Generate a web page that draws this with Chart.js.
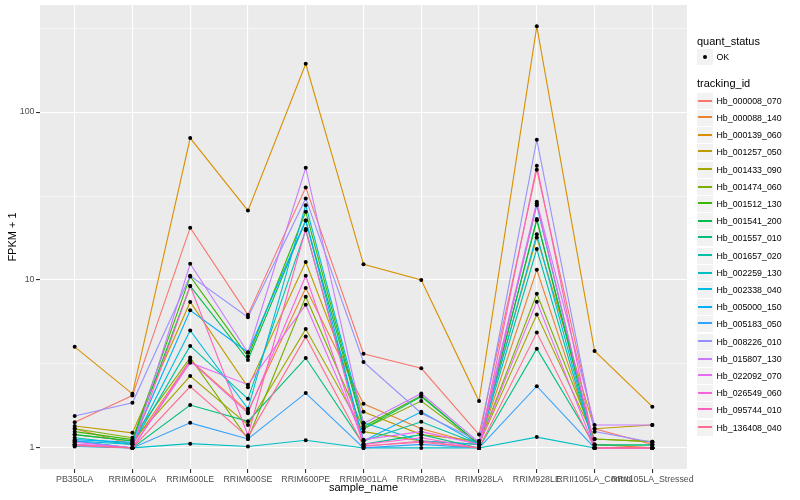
<!DOCTYPE html>
<html>
<head>
<meta charset="utf-8">
<script src="https://cdn.jsdelivr.net/npm/chart.js@4.4.0/dist/chart.umd.min.js"></script>
<style>
  body { margin: 0; background: #fff; font-family: "Liberation Sans", Arial, sans-serif; }
  #wrap { position: relative; width: 800px; height: 500px; }
  #legend { position: absolute; left: 697px; top: 0; width: 103px; height: 500px; }
  .ttl { position: absolute; left: 0; font-size: 11px; line-height: 13px; color: #000; white-space: nowrap; }
  .row { position: absolute; left: 0; height: 16px; display: flex; align-items: center; }
  .key { width: 16px; height: 16px; background: #F2F2F2; position: relative; flex: none; }
  .key i { position: absolute; left: 1px; right: 1px; height: 2px; }
  .key b { position: absolute; left: 6px; top: 6px; width: 4px; height: 4px; border-radius: 50%; background: #000; }
  .lab { font-size: 8.8px; color: #000; margin-left: 3.5px; white-space: nowrap; }
</style>
</head>
<body>
<div id="wrap">
  <canvas id="fpkmChart" width="800" height="500"></canvas>
  <div id="legend"></div>
</div>
<script>
const FONT = '"Liberation Sans", Arial, sans-serif';

const sampleNames = ['PB350LA', 'RRIM600LA', 'RRIM600LE', 'RRIM600SE', 'RRIM600PE', 'RRIM901LA',
    'RRIM928BA', 'RRIM928LA', 'RRIM928LE', 'RRII105LA_Control', 'RRII105LA_Stressed'];

const trackingIds = ['Hb_000008_070', 'Hb_000088_140', 'Hb_000139_060', 'Hb_001257_050', 'Hb_001433_090',
    'Hb_001474_060', 'Hb_001512_130', 'Hb_001541_200', 'Hb_001557_010', 'Hb_001657_020',
    'Hb_002259_130', 'Hb_002338_040', 'Hb_005000_150', 'Hb_005183_050', 'Hb_008226_010',
    'Hb_015807_130', 'Hb_022092_070', 'Hb_026549_060', 'Hb_095744_010', 'Hb_136408_040'];

const lineColours = ['#F8766D', '#EA8331', '#D89000', '#C09B00', '#A3A500', '#7CAE00', '#39B600',
    '#00BB4E', '#00BF7D', '#00C1A3', '#00BFC4', '#00BAE0', '#00B0F6', '#35A2FF', '#9590FF',
    '#C77CFF', '#E76BF3', '#FA62DB', '#FF62BC', '#FF6C91'];

// FPKM + 1 per sample, same order as sampleNames
const hb000008_070 = [1.42, 2.05, 20.5, 6.2, 35.6, 3.64, 2.98, 1.2, 45.4, 1.3, 1.05];
const hb000088_140 = [1.3, 1.05, 3.34, 1.65, 8.96, 1.83, 1.3, 1.05, 11.5, 1.05, 1.0];
const hb000139_060 = [4.0, 2.1, 70, 25.9, 194, 12.4, 10.0, 1.9, 324, 3.78, 1.76];
const hb001257_050 = [1.35, 1.23, 7.4, 2.3, 12.8, 1.64, 1.2, 1.1, 17.9, 1.3, 1.37];
const hb001433_090 = [1.2, 1.1, 2.68, 1.37, 5.1, 1.25, 1.1, 1.05, 6.22, 1.13, 1.09];
const hb001474_060 = [1.3, 1.15, 3.45, 1.13, 7.95, 1.3, 1.9, 1.05, 8.28, 1.13, 1.09];
const hb001512_130 = [1.25, 1.12, 10.5, 3.5, 25.5, 1.34, 2.05, 1.05, 22.7, 1.0, 1.0];
const hb001541_200 = [1.2, 1.1, 9.2, 3.34, 22.6, 1.3, 2.02, 1.05, 23.1, 1.04, 1.04];
const hb001557_010 = [1.1, 1.0, 1.8, 1.44, 3.43, 1.05, 1.2, 1.0, 3.9, 1.04, 1.04];
const hb001657_020 = [1.15, 1.05, 4.05, 1.96, 19.8, 1.1, 1.43, 1.05, 15.3, 1.0, 1.0];
const hb002259_130 = [1.02, 1.0, 1.06, 1.02, 1.11, 1.0, 1.0, 1.0, 1.16, 1.0, 1.0];
const hb002338_040 = [1.1, 1.05, 5.0, 1.71, 27.9, 1.41, 1.1, 1.05, 18.7, 1.0, 1.0];
const hb005000_150 = [1.12, 1.08, 6.6, 3.71, 22.6, 1.1, 1.64, 1.05, 27.9, 1.0, 1.0];
const hb005183_050 = [1.1, 1.0, 1.41, 1.13, 2.12, 1.0, 1.05, 1.0, 2.33, 1.0, 1.0];
const hb008226_010 = [1.55, 1.86, 10.6, 6.0, 30.6, 3.25, 1.61, 1.1, 68.4, 1.25, 1.08];
const hb015807_130 = [1.05, 1.0, 12.5, 3.7, 46.6, 1.4, 2.11, 1.08, 29.2, 1.37, 1.37];
const hb022092_070 = [1.08, 1.0, 3.22, 2.38, 7.13, 1.12, 1.25, 1.05, 7.43, 1.0, 1.0];
const hb026549_060 = [1.05, 1.0, 3.3, 1.61, 10.6, 1.05, 1.15, 1.0, 28.5, 1.0, 1.0];
const hb095744_010 = [1.03, 1.0, 9.2, 1.19, 20.1, 1.02, 1.1, 1.0, 47.9, 1.0, 1.0];
const hb136408_040 = [1.04, 1.0, 2.32, 1.16, 4.6, 1.03, 1.08, 1.0, 4.86, 1.0, 1.0];

const seriesValues = [hb000008_070, hb000088_140, hb000139_060, hb001257_050, hb001433_090,
    hb001474_060, hb001512_130, hb001541_200, hb001557_010, hb001657_020, hb002259_130,
    hb002338_040, hb005000_150, hb005183_050, hb008226_010, hb015807_130, hb022092_070,
    hb026549_060, hb095744_010, hb136408_040];

const yTickValues = [1, 10, 100];
const yTickLabels = ['1', '10', '100'];
const yMinorValues = [3.1623, 31.623, 316.23];

// points go on top of every line, like geom_point after geom_line
const allPoints = [];
seriesValues.forEach(vals => vals.forEach((v, j) => allPoints.push({ x: j, y: v })));

const datasets = [{
    label: 'OK',
    type: 'scatter',
    data: allPoints,
    showLine: false,
    pointRadius: 2,
    pointBackgroundColor: '#000',
    pointBorderColor: '#000',
    pointBorderWidth: 0
}];
// chart.js paints index 0 last, so push lines in reverse
for (let i = seriesValues.length - 1; i >= 0; i--) {
    datasets.push({
        label: trackingIds[i],
        data: seriesValues[i].map((v, j) => ({ x: j, y: v })),
        borderColor: lineColours[i],
        borderWidth: 1.1,
        pointRadius: 0,
        fill: false,
        tension: 0
    });
}

const panelBg = {
    id: 'panelBg',
    beforeDraw(chart) {
        const { ctx, chartArea: a } = chart;
        ctx.save();
        ctx.fillStyle = '#EBEBEB';
        ctx.fillRect(a.left, a.top, a.right - a.left, a.bottom - a.top);
        ctx.restore();
    }
};

const isMajor = v => yTickValues.includes(v);

new Chart(document.getElementById('fpkmChart').getContext('2d'), {
    type: 'line',
    data: { datasets: datasets },
    options: {
        responsive: false,
        animation: false,
        layout: { padding: { left: 0, top: 5, right: 113, bottom: 0 } },
        plugins: { legend: { display: false }, tooltip: { enabled: false } },
        scales: {
            x: {
                type: 'linear',
                bounds: 'data',
                min: -0.6,
                max: 10.6,
                afterBuildTicks: s => { s.ticks = sampleNames.map((n, i) => ({ value: i })); },
                afterFit: s => { s.height = 31; s.paddingLeft = 0; s.paddingRight = 0; },
                ticks: {
                    callback: v => sampleNames[v],
                    autoSkip: false, maxRotation: 0, minRotation: 0, padding: 1,
                    color: '#4D4D4D', font: { size: 8.8, family: FONT }
                },
                grid: { color: '#FFFFFF', lineWidth: 1.1, tickColor: '#333333', tickLength: 4 },
                border: { display: false },
                title: {
                    display: true, text: 'sample_name', color: '#000',
                    font: { size: 11, family: FONT }, padding: { top: 0, bottom: 5 }
                }
            },
            y: {
                type: 'logarithmic',
                bounds: 'data',
                min: 0.749,
                max: 434,
                afterBuildTicks: s => {
                    s.ticks = [1, yMinorValues[0], 10, yMinorValues[1], 100, yMinorValues[2]].map(v => ({ value: v }));
                },
                afterFit: s => { s.width = 40; s.paddingTop = 0; s.paddingBottom = 0; },
                ticks: {
                    callback: v => { const k = yTickValues.indexOf(v); return k >= 0 ? yTickLabels[k] : ''; },
                    autoSkip: false, padding: 1.5,
                    color: '#4D4D4D', font: { size: 8.8, family: FONT }
                },
                grid: {
                    color: '#FFFFFF',
                    lineWidth: c => isMajor(c.tick.value) ? 1.1 : 0.55,
                    tickColor: c => isMajor(c.tick.value) ? '#333333' : 'rgba(0,0,0,0)',
                    tickLength: 4
                },
                border: { display: false },
                title: {
                    display: true, text: 'FPKM + 1', color: '#000',
                    font: { size: 11, family: FONT }, padding: { top: 6.4, bottom: 0 }
                }
            }
        }
    },
    plugins: [panelBg]
});

// legend, ggplot style
const legend = document.getElementById('legend');
let html = '<div class="ttl" style="top:35px">quant_status</div>';
html += '<div class="row" style="top:49px"><div class="key"><b></b></div><span class="lab">OK</span></div>';
html += '<div class="ttl" style="top:77px">tracking_id</div>';
trackingIds.forEach((id, i) => {
    const top = Math.round(92.7 + i * 17.2);
    // keep the 2px key line on an even pixel row so it stays crisp
    const lineTop = (top + 7) % 2 === 0 ? 7 : 6;
    html += `<div class="row" style="top:${top}px"><div class="key"><i style="top:${lineTop}px;background:${lineColours[i]}"></i></div><span class="lab">${id}</span></div>`;
});
legend.innerHTML = html;
</script>
</body>
</html>
